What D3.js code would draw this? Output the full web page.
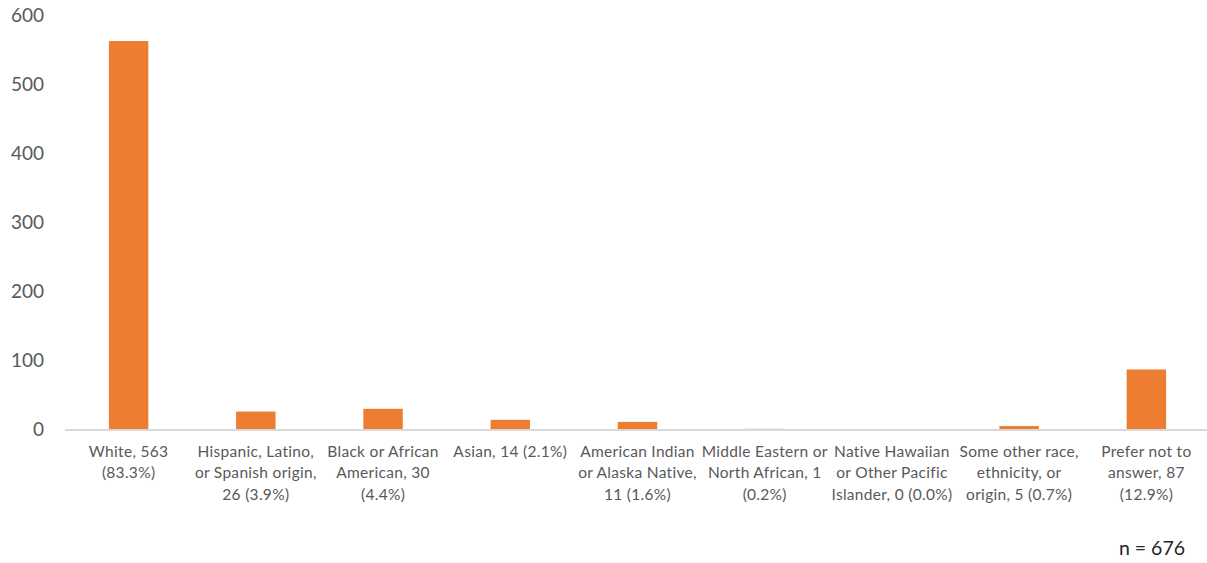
<!DOCTYPE html>
<html><head><meta charset="utf-8">
<script src="https://cdn.jsdelivr.net/npm/d3@7"></script>
<style>body{margin:0;background:#fff;} text{font-family:Lato,"Open Sans",sans-serif;}</style>
</head><body><svg id="c" width="1207" height="563"></svg>
<script>
const categories = ["White","Hispanic","Black","Asian","AIAN","MENA","NHPI","Other","Prefer"];
const values = [563,26,30,14,11,1,0,5,87];
const labelLines = [
  ["White, 563","(83.3%)"],
  ["Hispanic, Latino,","or Spanish origin,","26 (3.9%)"],
  ["Black or African","American, 30","(4.4%)"],
  ["Asian, 14 (2.1%)"],
  ["American Indian","or Alaska Native,","11 (1.6%)"],
  ["Middle Eastern or","North African, 1","(0.2%)"],
  ["Native Hawaiian","or Other Pacific","Islander, 0 (0.0%)"],
  ["Some other race,","ethnicity, or","origin, 5 (0.7%)"],
  ["Prefer not to","answer, 87","(12.9%)"]
];
const yTicks = [0,100,200,300,400,500,600];
const note = "n = 676";

const svg = d3.select("#c");
const x = d3.scaleBand().domain(categories).range([65,1210]).paddingInner(0.69).paddingOuter(0.345);
const y = d3.scaleLinear().domain([0,600]).range([429.5,15.5]);

svg.selectAll("text.yt").data(yTicks).enter().append("text")
  .attr("x",44).attr("y",d=>y(d)).attr("dy","0.35em").attr("text-anchor","end")
  .attr("font-size",19).attr("fill","#595959").text(d=>d);

svg.selectAll("rect.bar").data(values).enter().append("rect")
  .attr("x",(d,i)=>x(categories[i])).attr("width",x.bandwidth())
  .attr("y",d=>y(d)).attr("height",d=>y(0)-y(d)).attr("fill","#ED7D31");

svg.append("line").attr("x1",65).attr("x2",1207).attr("y1",y(0)+0.5).attr("y2",y(0)+0.5)
  .attr("stroke","#d9d9d9").attr("stroke-width",2);

labelLines.forEach((lines,i)=>{
  const cx = x(categories[i]) + x.bandwidth()/2;
  const t = svg.append("text").attr("text-anchor","middle").attr("font-size",15.5)
    .attr("letter-spacing",0.3).attr("fill","#595959");
  lines.forEach((l,j)=>{
    t.append("tspan").attr("x",cx).attr("y",457+j*21.3).text(l);
  });
});

svg.append("text").attr("x",1185).attr("y",555).attr("text-anchor","end")
  .attr("font-size",19.5).attr("fill","#262626").text(note);
</script></body></html>
